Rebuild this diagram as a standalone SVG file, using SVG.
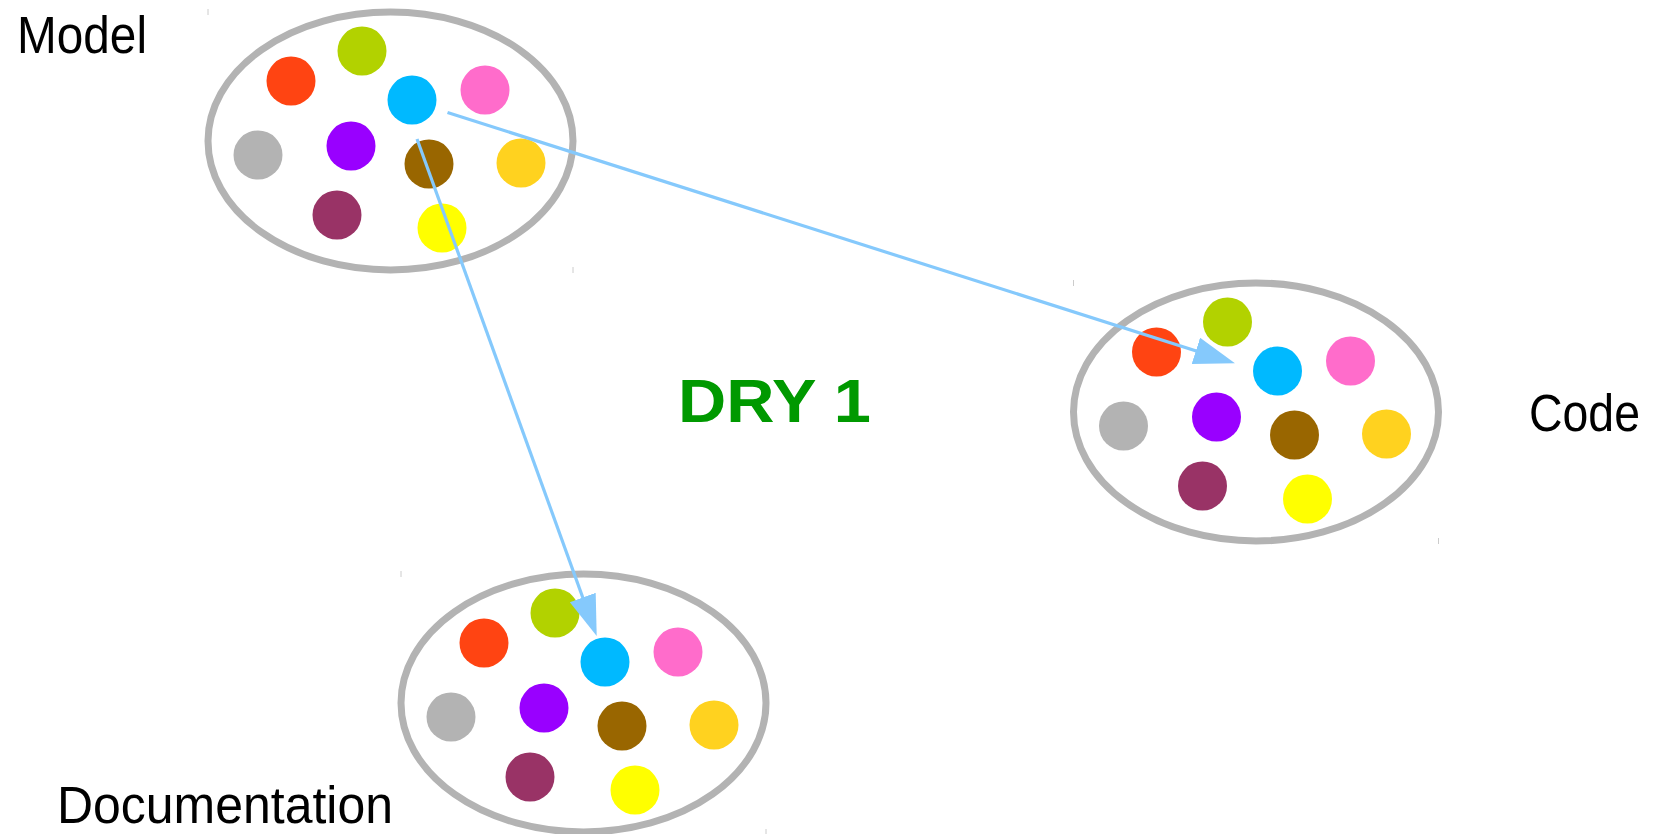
<svg xmlns="http://www.w3.org/2000/svg" xmlns:xlink="http://www.w3.org/1999/xlink" width="1656" height="834" viewBox="0 0 1656 834">
  <style>
    .set-outline { fill: #ffffff; stroke: #b3b3b3; stroke-width: 7; }
    .tick { stroke: #cccccc; stroke-width: 1; }
    .label { font-family: "Liberation Sans", Arial, sans-serif; font-size: 51px; fill: #000000; }
    .title { font-family: "Liberation Sans", Arial, sans-serif; font-size: 61px; font-weight: bold; fill: #009900; }
    .link { fill: none; stroke: #85c9fc; stroke-width: 3.2; }
  </style>
  <defs>
    <marker id="arrowhead" markerUnits="userSpaceOnUse" markerWidth="42" markerHeight="28" refX="21" refY="13.75" orient="auto" viewBox="0 0 42 28">
      <path d="M0,0 L41,13.75 L0,27.5 Z" fill="#85c9fc"/>
    </marker>
    <!-- one set of ten elements, centred on the origin -->
    <g id="element-set">
      <ellipse class="set-outline" cx="0" cy="0" rx="182.5" ry="129"/>
      <line class="tick" x1="-182.5" y1="-132" x2="-182.5" y2="-126"/>
      <line class="tick" x1="182.5" y1="126" x2="182.5" y2="132"/>
      <circle cx="-28.5" cy="-90" r="24.5" fill="#b2d200"/>
      <circle cx="-99.5" cy="-60" r="24.5" fill="#ff4412"/>
      <circle cx="21.5" cy="-41" r="24.5" fill="#00b9ff"/>
      <circle cx="94.5" cy="-51" r="24.5" fill="#ff6ccb"/>
      <circle cx="-132.5" cy="14" r="24.5" fill="#b3b3b3"/>
      <circle cx="-39.5" cy="5" r="24.5" fill="#9900ff"/>
      <circle cx="38.5" cy="23" r="24.5" fill="#996600"/>
      <circle cx="130.5" cy="22" r="24.5" fill="#ffd21f"/>
      <circle cx="-53.5" cy="74" r="24.5" fill="#993366"/>
      <circle cx="51.5" cy="87" r="24.5" fill="#ffff00"/>
    </g>
  </defs>

  <rect x="0" y="0" width="1656" height="834" fill="#ffffff"/>

  <g id="model">
    <use href="#element-set" xlink:href="#element-set" transform="translate(390.5,141)"/>
    <text class="label" x="17" y="53" textLength="130" lengthAdjust="spacingAndGlyphs">Model</text>
  </g>

  <g id="code">
    <use href="#element-set" xlink:href="#element-set" transform="translate(1256,412)"/>
    <text class="label" x="1529" y="431" textLength="111" lengthAdjust="spacingAndGlyphs">Code</text>
  </g>

  <g id="documentation">
    <use href="#element-set" xlink:href="#element-set" transform="translate(583.5,703)"/>
    <text class="label" x="57" y="823" textLength="336" lengthAdjust="spacingAndGlyphs">Documentation</text>
  </g>

  <g id="title">
    <text class="title" x="678" y="422" textLength="193" lengthAdjust="spacingAndGlyphs">DRY 1</text>
  </g>

  <g id="connectors">
    <line class="link" x1="447.5" y1="112.5" x2="1215.9" y2="357.2" marker-end="url(#arrowhead)"/>
    <line class="link" x1="417" y1="139" x2="589.9" y2="617.2" marker-end="url(#arrowhead)"/>
  </g>
</svg>
